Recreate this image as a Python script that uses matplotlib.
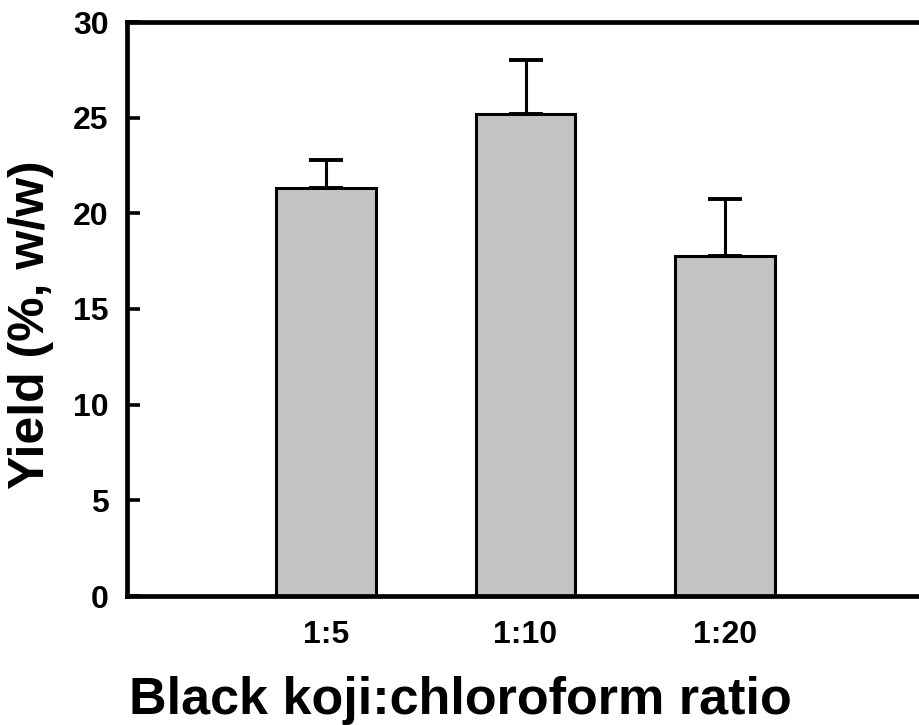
import matplotlib.pyplot as plt

plt.rcParams['font.family'] = ['Liberation Sans', 'DejaVu Sans']
plt.rcParams['font.weight'] = 'bold'

ratios = ['1:5', '1:10', '1:20']
yield_mean = [21.3, 25.2, 17.75]
yield_err = [1.5, 2.8, 3.0]

fig = plt.figure(figsize=(9.19, 7.25), dpi=100)
ax = fig.add_axes([126.5 / 919, 129 / 725, 798 / 919, 574 / 725])

pos = [1, 2, 3]
ax.bar(pos, yield_mean, width=0.5, color='#c4c4c4', edgecolor='black', linewidth=2.2,
       yerr=[[0] * len(yield_err), yield_err], capsize=12.5,
       error_kw=dict(elinewidth=2.2, capthick=2.8, ecolor='black'), zorder=2)

ax.set_xlim(0, 4)
ax.set_ylim(0, 30)
ax.set_yticks([0, 5, 10, 15, 20, 25, 30])
ax.set_xticks(pos)
ax.set_xticklabels(ratios)

for s in ['left', 'bottom', 'top', 'right']:
    ax.spines[s].set_linewidth(3.4)

ax.tick_params(axis='y', direction='in', length=9, width=2.6, labelsize=23, pad=13)
ax.tick_params(axis='x', length=0, labelsize=23, pad=17)

fig.text(31 / 919, 1 - 325 / 725, 'Yield (%, w/w)', rotation=90, ha='center', va='center',
         fontsize=36, fontweight='bold')
fig.text(460 / 919, 11 / 725, 'Black koji:chloroform ratio', ha='center', va='baseline',
         fontsize=37.5, fontweight='bold')

plt.savefig('out.png', dpi=100)
